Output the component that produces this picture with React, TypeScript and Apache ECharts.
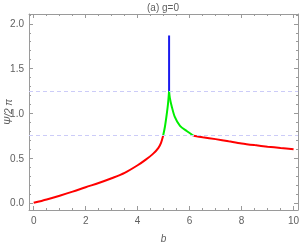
import React, { useEffect, useRef } from "react";
import * as echarts from "echarts";

const TITLE = "(a) g=0";
const X_NAME = "b";
const Y_NAME = "Ψ/2 π";
const X_MIN = -0.18;
const X_MAX = 10.17;
const Y_MIN = -0.08;
const Y_MAX = 2.11;

const xMajorTicks = [0, 2, 4, 6, 8, 10];
const xMinorTicks = [0, 0.5, 1, 1.5, 2, 2.5, 3, 3.5, 4, 4.5, 5, 5.5, 6, 6.5, 7, 7.5, 8, 8.5, 9, 9.5, 10];
const yMajorTicks = [0, 0.5, 1, 1.5, 2];
const yMinorTicks = [0, 0.1, 0.2, 0.3, 0.4, 0.5, 0.6, 0.7, 0.8, 0.9, 1, 1.1, 1.2, 1.3, 1.4, 1.5, 1.6, 1.7, 1.8, 1.9, 2, 2.1];
const guideLevels = [1.25, 0.75];

const redLeftB = [0, 0.5, 1, 1.5, 2, 2.5, 3, 3.5, 4, 4.3, 4.6, 4.8, 4.9, 4.98];
const redLeftY = [0, 0.038, 0.08, 0.125, 0.175, 0.222, 0.275, 0.335, 0.42, 0.48, 0.55, 0.615, 0.67, 0.75];
const greenLeftB = [4.98, 5.05, 5.12, 5.17, 5.21];
const greenLeftY = [0.75, 0.85, 0.99, 1.11, 1.25];
const blueB = [5.21, 5.21];
const blueY = [1.25, 1.87];
const greenRightB = [5.21, 5.24, 5.31, 5.43, 5.63, 5.9, 6.15];
const greenRightY = [1.25, 1.17, 1.08, 0.96, 0.86, 0.8, 0.75];
const redRightB = [6.15, 6.5, 7, 7.5, 8, 8.5, 9, 9.5, 10];
const redRightY = [0.75, 0.733, 0.712, 0.688, 0.664, 0.645, 0.628, 0.613, 0.6];

const zip = (a: number[], b: number[]) => a.map((v, i) => [v, b[i]]);

const FONT = "Liberation Sans";
const AXIS_COLOR = "#9a9a9a";
const LABEL_COLOR = "#606060";

export default function App() {
  const ref = useRef<HTMLDivElement>(null);
  useEffect(() => {
    if (!ref.current) return;
    const chart = echarts.init(ref.current, undefined, { renderer: "svg" });
    const xBase = (position: string, ticks: number[], len: number, showLine: boolean, labels: boolean) => ({
      type: "value",
      min: X_MIN,
      max: X_MAX,
      position,
      offset: 0,
      axisLine: { show: showLine, onZero: false, lineStyle: { color: AXIS_COLOR, width: 1 } },
      axisTick: { show: true, inside: true, length: len, customValues: ticks, lineStyle: { color: AXIS_COLOR } },
      axisLabel: labels
        ? { show: true, customValues: xMajorTicks, color: LABEL_COLOR, fontSize: 10, fontFamily: FONT, margin: 5, formatter: (v: number) => String(v) }
        : { show: false },
      splitLine: { show: false },
    });
    const yBase = (position: string, ticks: number[], len: number, showLine: boolean, labels: boolean) => ({
      type: "value",
      min: Y_MIN,
      max: Y_MAX,
      position,
      offset: 0,
      axisLine: { show: showLine, onZero: false, lineStyle: { color: AXIS_COLOR, width: 1 } },
      axisTick: { show: true, inside: true, length: len, customValues: ticks, lineStyle: { color: AXIS_COLOR } },
      axisLabel: labels
        ? { show: true, customValues: yMajorTicks, color: LABEL_COLOR, fontSize: 10, fontFamily: FONT, margin: 5, formatter: (v: number) => v.toFixed(1) }
        : { show: false },
      splitLine: { show: false },
    });
    const lineSeries = (data: number[][], color: string, extra: any = {}) => ({
      type: "line",
      data,
      xAxisIndex: 0,
      yAxisIndex: 0,
      showSymbol: false,
      symbol: "none",
      smooth: 0.3,
      lineStyle: { color, width: 2 },
      silent: true,
      ...extra,
    });
    chart.setOption({
      animation: false,
      grid: { left: 29, top: 14, right: 2, bottom: 35, containLabel: false, outerBoundsMode: "none" },
      graphic: [
        {
          type: "text",
          x: 163,
          y: 7,
          style: { text: TITLE, fill: LABEL_COLOR, fontSize: 10, fontFamily: FONT, textAlign: "center", textVerticalAlign: "middle" },
        },
        {
          type: "text",
          x: 8,
          y: 112,
          rotation: Math.PI / 2,
          style: { text: Y_NAME, fill: LABEL_COLOR, fontSize: 10, fontFamily: FONT, fontStyle: "italic", textAlign: "center", textVerticalAlign: "middle" },
        },
      ],
      xAxis: [
        {
          ...xBase("bottom", xMajorTicks, 4, true, true),
          name: X_NAME,
          nameLocation: "middle",
          nameGap: 23,
          nameTextStyle: { color: LABEL_COLOR, fontSize: 10, fontFamily: FONT, fontStyle: "italic" },
        },
        xBase("bottom", xMinorTicks, 2, false, false),
        xBase("top", xMajorTicks, 4, true, false),
        xBase("top", xMinorTicks, 2, false, false),
      ],
      yAxis: [
        yBase("left", yMajorTicks, 4, true, true),
        yBase("left", yMinorTicks, 2, false, false),
        yBase("right", yMajorTicks, 4, true, false),
        yBase("right", yMinorTicks, 2, false, false),
      ],
      series: [
        lineSeries(zip(redLeftB, redLeftY), "#ff0000", {
          markLine: {
            silent: true,
            symbol: ["none", "none"],
            label: { show: false },
            lineStyle: { color: "#ccccf8", type: [4, 3], width: 1 },
            data: guideLevels.map((v) => ({ yAxis: v })),
          },
          z: 3,
        }),
        lineSeries(zip(greenLeftB, greenLeftY), "#00ee00"),
        lineSeries(zip(blueB, blueY), "#1a1aee", { smooth: false }),
        lineSeries(zip(greenRightB, greenRightY), "#00ee00"),
        lineSeries(zip(redRightB, redRightY), "#ff0000"),
      ],
    });
    return () => chart.dispose();
  }, []);
  return <div ref={ref} style={{ position: "fixed", left: 0, top: 0, width: 300, height: 245 }} />;
}
